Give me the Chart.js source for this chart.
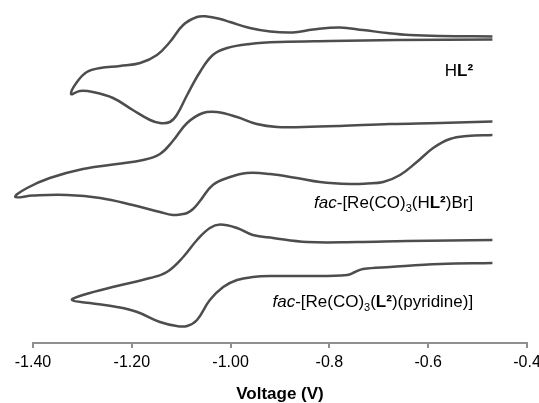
<!DOCTYPE html>
<html>
<head>
<meta charset="utf-8">
<script src="https://cdn.jsdelivr.net/npm/chart.js@4.4.1/dist/chart.umd.min.js"></script>
<style>
  html, body { margin: 0; padding: 0; background: #fff; }
  canvas { display: block; }
</style>
</head>
<body>
<canvas id="cv" width="539" height="403"></canvas>
<script>
// three cyclic voltammograms, current in arbitrary units (curves are stacked)
const hl2V = [-0.47, -0.576, -0.637, -0.683, -0.732, -0.779, -0.833, -0.874, -0.920, -0.961, -1.001, -1.021, -1.048, -1.068, -1.096, -1.123, -1.149, -1.183, -1.224, -1.264, -1.291, -1.311, -1.323,
  -1.305, -1.279, -1.238, -1.198, -1.163, -1.143, -1.123, -1.109, -1.088, -1.062, -1.036, -1.007, -0.961, -0.900, -0.799, -0.663, -0.47]
const hl2I = [30.65, 30.7, 30.8, 31.0, 31.3, 31.55, 31.35, 31.05, 31.15, 31.5, 32.1, 32.4, 32.65, 32.6, 31.8, 30.1, 28.8, 28.0, 27.7, 27.5, 27.1, 26.1, 24.9,
  25.2, 25.1, 24.5, 23.3, 22.3, 22.0, 22.1, 22.8, 24.8, 27.1, 28.8, 29.5, 29.9, 30.1, 30.2, 30.3, 30.35]

const brV = [-0.47, -0.576, -0.677, -0.779, -0.853, -0.906, -0.947, -0.987, -1.028, -1.056, -1.088, -1.117, -1.143, -1.177, -1.230, -1.299, -1.366, -1.412, -1.436,
  -1.400, -1.331, -1.264, -1.198, -1.143, -1.117, -1.102, -1.088, -1.076, -1.062, -1.036, -1.001, -0.967, -0.920, -0.866, -0.819, -0.758, -0.724, -0.691, -0.657, -0.623, -0.590, -0.556, -0.521, -0.47]
const brI = [22.15, 22.0, 21.9, 21.7, 21.6, 21.6, 21.9, 22.6, 23.1, 23.0, 22.0, 20.2, 18.9, 18.3, 17.9, 17.4, 16.5, 15.5, 14.6,
  14.75, 14.8, 14.5, 13.8, 13.1, 12.8, 12.85, 13.0, 13.4, 14.2, 15.8, 16.6, 17.0, 16.9, 16.5, 16.1, 15.9, 15.95, 16.1, 16.8, 18.1, 19.5, 20.4, 20.7, 20.8]

const pyV = [-0.47, -0.643, -0.744, -0.845, -0.914, -0.955, -0.987, -1.021, -1.042, -1.068, -1.096, -1.129, -1.163, -1.230, -1.299, -1.321,
  -1.285, -1.230, -1.189, -1.143, -1.109, -1.088, -1.068, -1.042, -1.015, -0.987, -0.955, -0.914, -0.845, -0.764, -0.748, -0.732, -0.677, -0.576, -0.47]
const pyI = [10.3, 10.2, 10.1, 10.1, 10.5, 10.8, 11.5, 11.85, 11.5, 10.3, 8.6, 7.1, 6.5, 5.7, 4.8, 4.3,
  4.0, 3.6, 3.1, 2.1, 1.7, 1.7, 2.3, 4.3, 5.6, 6.3, 6.6, 6.7, 6.7, 6.8, 7.1, 7.4, 7.6, 7.9, 8.0]

const tickValues = [-1.4, -1.2, -1.0, -0.8, -0.6, -0.4]
const tickLabels = ['-1.40', '-1.20', '-1.00', '-0.8', '-0.6', '-0.4']
const axisTitle = 'Voltage (V)'

// curve names as [text, style] pieces
const hl2Label = [['H', ''], ['L\u00b2', 'bold']]
const brLabel = [['fac', 'italic'], ['-[Re(CO)', ''], ['3', 'sub'], ['(H', ''], ['L\u00b2', 'bold'], [')Br]', '']]
const pyLabel = [['fac', 'italic'], ['-[Re(CO)', ''], ['3', 'sub'], ['(', ''], ['L\u00b2', 'bold'], [')(pyridine)]', '']]

const FONT = "'Liberation Sans', Arial, sans-serif"
const LINE = '#4d4d4d'

function fontFor(style) {
  if (style == 'bold') return 'bold 17px ' + FONT
  if (style == 'italic') return 'italic 17px ' + FONT
  if (style == 'sub') return '11px ' + FONT
  return '17px ' + FONT
}

const toPts = (V, I) => V.map((v, i) => ({x: v, y: I[i]}))

const curveLabels = {
  id: 'curveLabels',
  afterDatasetsDraw(chart) {
    const ctx = chart.ctx, xs = chart.scales.x, ys = chart.scales.y
    const spots = [[hl2Label, -0.509, 26.7], [brLabel, -0.509, 13.5], [pyLabel, -0.509, 3.6]]
    ctx.save()
    ctx.fillStyle = '#000'
    ctx.textBaseline = 'alphabetic'
    for (const [segs, vx, vy] of spots) {
      let w = 0
      for (const [t, s] of segs) { ctx.font = fontFor(s); w += ctx.measureText(t).width }
      let x = xs.getPixelForValue(vx) - w
      const y = ys.getPixelForValue(vy)
      for (const [t, s] of segs) {
        ctx.font = fontFor(s)
        ctx.fillText(t, x, s == 'sub' ? y + 4 : y)
        x += ctx.measureText(t).width
      }
    }
    ctx.restore()
  }
}

const ds = (V, I) => ({
  data: toPts(V, I),
  borderColor: LINE,
  borderWidth: 2.5,
  pointRadius: 0,
  tension: 0.4,
  fill: false,
  clip: false
})

new Chart(document.getElementById('cv'), {
  type: 'line',
  data: { datasets: [ds(hl2V, hl2I), ds(brV, brI), ds(pyV, pyI)] },
  options: {
    responsive: false,
    animation: false,
    layout: { padding: { left: 33, right: 12, top: 0, bottom: 0 } },
    plugins: { legend: { display: false }, tooltip: { enabled: false } },
    scales: {
      x: {
        type: 'linear',
        min: -1.4,
        max: -0.4,
        afterBuildTicks: s => { s.ticks = tickValues.map(v => ({ value: v })) },
        afterFit: s => { s.paddingLeft = 0; s.paddingRight = 0; s.height = 60 },
        ticks: {
          autoSkip: false,
          maxRotation: 0,
          padding: 5,
          color: '#000',
          font: { family: FONT, size: 16 },
          callback: (v, i) => tickLabels[i]
        },
        grid: { drawOnChartArea: false, drawTicks: true, tickLength: 5, color: '#8f8f8f', lineWidth: 2 },
        border: { display: true, color: '#8f8f8f', width: 2 },
        title: {
          display: true,
          text: axisTitle,
          color: '#000',
          font: { family: FONT, size: 17, weight: 'bold' },
          padding: { top: 0, bottom: -2 }
        }
      },
      y: { display: false, min: 0, max: 34.3 }
    }
  },
  plugins: [curveLabels]
})
</script>
</body>
</html>
